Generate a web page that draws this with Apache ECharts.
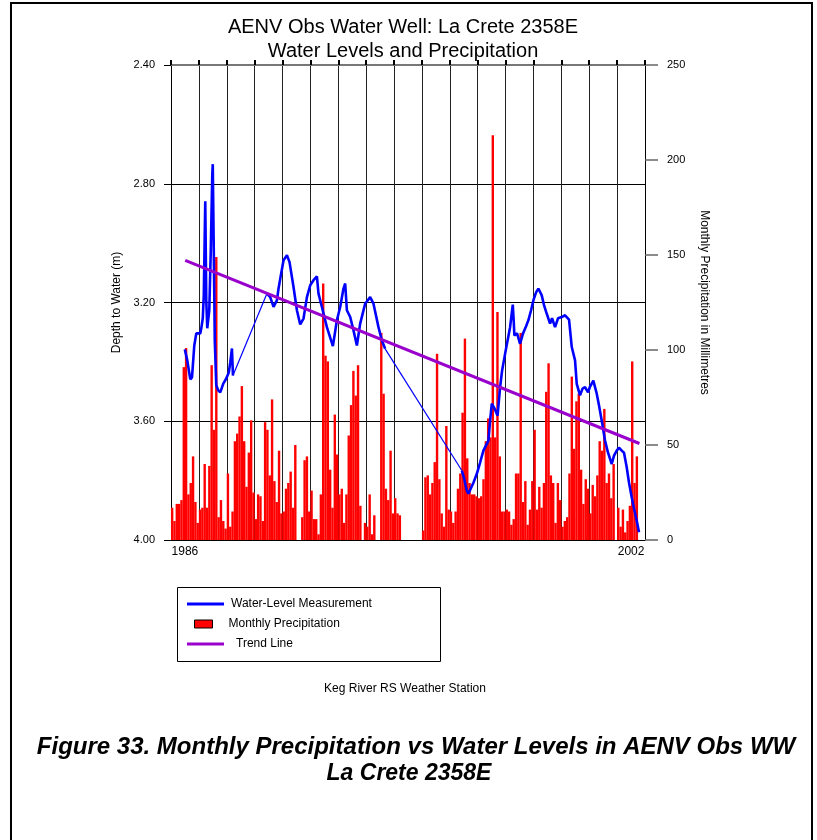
<!DOCTYPE html>
<html><head><meta charset="utf-8">
<script src="https://cdn.jsdelivr.net/npm/echarts@6/dist/echarts.min.js"></script>
<style>html,body{margin:0;padding:0;background:#fff}#c{width:817px;height:840px}</style>
</head><body><div id="c"></div>
<script>
// ---- Monthly precipitation (mm), Jan..Dec, null = no data ----
const p1986 = [17, 10, 19, 19, 21, 91, 101, 24, 30, 44, 20, 9];
const p1987 = [16, 17, 40, 17, 39, 92, 58, 149, 12, 21, 10, 6];
const p1988 = [35, 7, 15, 52, 56, 65, 81, 52, 28, 46, 63, 25];
const p1989 = [11, 24, 23, 10, 62, 58, 34, 74, 31, 20, 47, 14];
const p1990 = [15, 27, 30, 36, 17, 50, null, null, 12, 42, 44, 15];
const p1991 = [26, 11, 11, 3, 24, 135, 97, 94, 37, 17, 66, 45];
const p1992 = [24, 27, 9, 24, 55, 71, 89, 76, 92, 18, 0, 9];
const p1993 = [7, 24, 3, 13, 0, 0, 109, 77, 27, 21, 47, 14];
const p1994 = [22, 14, 13, null, null, null, null, null, null, null, null, null];
const p1995 = [5, 33, 34, 24, 30, 41, 98, 32, 14, 7, 60, 16];
const p1996 = [15, 9, 15, 27, 35, 67, 106, 43, 30, 24, 24, 23];
const p1997 = [22, 23, 32, 52, 64, 54, 213, 54, 120, 44, 15, 15];
const p1998 = [16, 15, 8, 11, 35, 35, 109, 20, 31, 8, 16, 31];
const p1999 = [58, 16, 28, 17, 30, 78, 93, 34, 30, 9, 30, 21];
const p2000 = [7, 10, 12, 35, 86, 48, 73, 77, 37, 19, 32, 27];
const p2001 = [14, 29, 23, 34, 52, 47, 69, 30, 35, 22, 40, 0];
const p2002 = [17, 7, 16, 4, 10, 18, 94, 30, 44, null, null, null];
const precipYears = [1986,1987,1988,1989,1990,1991,1992,1993,1994,1995,1996,1997,1998,1999,2000,2001,2002];
const precipRows = [p1986,p1987,p1988,p1989,p1990,p1991,p1992,p1993,p1994,p1995,p1996,p1997,p1998,p1999,p2000,p2001,p2002];

// ---- Water level (depth to water, m) : decimal year / depth ----
const wlTimeA = [1986.495,1986.584,1986.692,1986.753,1986.835,1986.907,1987.050,1987.086,1987.140,1987.176,1987.229,1987.265,1987.301,1987.373,1987.427,1987.480,1987.498,1987.534,1987.570,1987.624,1987.695,1987.767,1987.875,1987.982,1988.072,1988.125,1988.186,1988.222];
const wlDepthA = [3.358,3.395,3.459,3.452,3.345,3.304,3.304,3.287,3.253,3.176,2.859,3.193,3.287,3.226,3.024,2.771,2.734,3.024,3.328,3.479,3.496,3.503,3.473,3.456,3.436,3.402,3.355,3.446];
const wlTimeB = [1989.441,1989.559,1989.677,1989.799,1989.857,1989.918,1990.036,1990.158,1990.251,1990.394,1990.516,1990.634,1990.753,1990.875,1990.993,1991.111,1991.233,1991.290,1991.412,1991.591,1991.806,1991.950,1992.068,1992.186,1992.247,1992.308,1992.427,1992.545,1992.667,1992.785,1992.964,1993.143,1993.262,1993.441,1993.563,1993.681];
const wlDepthB = [3.170,3.182,3.215,3.193,3.153,3.120,3.058,3.041,3.064,3.148,3.226,3.274,3.254,3.182,3.142,3.125,3.112,3.170,3.215,3.283,3.347,3.260,3.215,3.153,3.136,3.226,3.249,3.294,3.345,3.271,3.204,3.182,3.204,3.283,3.328,3.356];
const wlTimeC = [1996.430,1996.513,1996.609,1996.667,1996.728,1996.846,1996.968,1997.086,1997.204,1997.384,1997.444,1997.505,1997.588,1997.713,1997.803,1997.875,1997.982,1998.072,1998.161,1998.258,1998.294,1998.315,1998.412,1998.520,1998.627,1998.735,1998.817,1998.914,1998.996,1999.093,1999.176,1999.297,1999.380,1999.477,1999.595,1999.667,1999.774,1999.882,2000.014,2000.133,2000.276,2000.373,2000.491,2000.552,2000.670,2000.760,2000.849,2000.957,2001.029,2001.147,2001.269,2001.351,2001.448,2001.566,2001.674,2001.806,2001.889,2001.986,2002.068,2002.165,2002.247,2002.344,2002.427,2002.523,2002.606,2002.703,2002.785];
const wlDepthC = [3.766,3.793,3.834,3.844,3.839,3.807,3.777,3.739,3.699,3.665,3.598,3.541,3.554,3.581,3.486,3.429,3.373,3.328,3.283,3.207,3.267,3.311,3.304,3.339,3.304,3.280,3.260,3.226,3.193,3.166,3.153,3.176,3.210,3.238,3.271,3.253,3.283,3.253,3.249,3.243,3.258,3.350,3.395,3.474,3.513,3.490,3.485,3.503,3.483,3.463,3.507,3.547,3.598,3.665,3.706,3.744,3.716,3.699,3.689,3.699,3.706,3.755,3.807,3.856,3.894,3.935,3.974];

// ---- Trend line ----
const trendTime = [1986.51, 2002.80];
const trendDepth = [3.058, 3.675];

// ---- Axis ticks / labels ----
const depthTicks = [2.40, 2.80, 3.20, 3.60, 4.00];
const precipTicks = [0, 50, 100, 150, 200, 250];
const yearStart = 1986, yearEnd = 2003;
const yearLabels = [{at: 1986.5, text: '1986'}, {at: 2002.5, text: '2002'}];

// ---- build ----
const zip = (t, d) => t.map((v, i) => [v, d[i]]);
const barData = [];
precipRows.forEach((row, i) => row.forEach((v, m) => {
  if (v !== null) barData.push([precipYears[i] + (m + 0.5) / 12, v]);
}));
const segA = zip(wlTimeA, wlDepthA), segB = zip(wlTimeB, wlDepthB), segC = zip(wlTimeC, wlDepthC);
const gap1 = [segA[segA.length - 1], segB[0]];
const gap2 = [segB[segB.length - 1], segC[0]];

const FONT = 'Liberation Sans, Arial, sans-serif';
const BLUE = '#0000FF', RED = '#FF0000', PURPLE = '#9900CC';
const WL = 'Water-Level Measurement', PR = 'Monthly Precipitation', TR = 'Trend Line';

function wlSeries(data, w) {
  return {name: WL, type: 'line', xAxisIndex: 0, yAxisIndex: 0, data: data, symbol: 'none',
    color: BLUE, lineStyle: {color: BLUE, width: w}, itemStyle: {color: BLUE}, z: 3, silent: true};
}

const chart = echarts.init(document.getElementById('c'), null, {renderer: 'canvas'});
chart.setOption({
  animation: false,
  textStyle: {fontFamily: FONT, color: '#000'},
  title: {
    text: 'AENV Obs Water Well: La Crete 2358E\nWater Levels and Precipitation',
    left: 398, top: 10, textAlign: 'center',
    textStyle: {fontSize: 20, fontWeight: 'normal', lineHeight: 24, fontFamily: FONT, color: '#000'}
  },
  grid: {left: 171, right: 172, top: 65, bottom: 300, containLabel: false},
  xAxis: [
    {type: 'value', min: yearStart, max: yearEnd, interval: 1, position: 'bottom',
      axisLine: {show: true, lineStyle: {color: '#000', width: 1}},
      axisTick: {show: false}, axisLabel: {show: false},
      splitLine: {show: true, lineStyle: {color: '#222', width: 1}}},
    {type: 'value', min: yearStart, max: yearEnd, interval: 0.5, position: 'bottom',
      axisLine: {show: false}, axisTick: {show: false}, splitLine: {show: false},
      axisLabel: {show: true, margin: 6, fontSize: 12, color: '#000', fontFamily: FONT,
        formatter: function (v) {
          const f = yearLabels.find(l => Math.abs(l.at - v) < 0.01);
          return f ? f.text : '';
        }}},
    {type: 'value', min: yearStart, max: yearEnd, interval: 1, position: 'top',
      axisLine: {show: true, lineStyle: {color: '#777', width: 2}},
      axisTick: {show: true, length: 5, lineStyle: {color: '#000', width: 2}},
      axisLabel: {show: false}, splitLine: {show: false}}
  ],
  yAxis: [
    {type: 'value', inverse: true, min: depthTicks[0], max: depthTicks[depthTicks.length - 1],
      interval: depthTicks[1] - depthTicks[0], position: 'left',
      name: 'Depth to Water (m)', nameLocation: 'middle', nameGap: 47, nameRotate: 90,
      nameTextStyle: {fontSize: 12, color: '#000', fontFamily: FONT},
      axisLine: {show: true, lineStyle: {color: '#000'}},
      axisTick: {show: true, length: 7, lineStyle: {color: '#000'}},
      axisLabel: {fontSize: 11, margin: 16, color: '#000', fontFamily: FONT, formatter: v => v.toFixed(2)},
      splitLine: {show: true, lineStyle: {color: '#000', width: 1}}},
    {type: 'value', min: precipTicks[0], max: precipTicks[precipTicks.length - 1],
      interval: precipTicks[1] - precipTicks[0], position: 'right',
      name: 'Monthly Precipitation in Millimetres', nameLocation: 'middle', nameGap: 53, nameRotate: -90,
      nameTextStyle: {fontSize: 12, color: '#000', fontFamily: FONT},
      axisLine: {show: true, lineStyle: {color: '#000'}},
      axisTick: {show: true, length: 13, lineStyle: {color: '#666', width: 1.5}},
      axisLabel: {fontSize: 11, margin: 22, color: '#000', fontFamily: FONT},
      splitLine: {show: false}}
  ],
  legend: [
    {data: [WL], left: 187, top: 598, padding: 0, itemWidth: 37, itemHeight: 3, icon: 'rect',
      textStyle: {fontSize: 12, color: '#000', fontFamily: FONT, padding: [0, 0, 0, 2]}, selectedMode: false},
    {data: [PR], left: 194, top: 618, padding: 0, itemWidth: 18, itemHeight: 8, icon: 'rect',
      itemStyle: {borderColor: '#000', borderWidth: 1},
      textStyle: {fontSize: 12, color: '#000', fontFamily: FONT, padding: [0, 0, 0, 11]}, selectedMode: false},
    {data: [TR], left: 187, top: 638, padding: 0, itemWidth: 37, itemHeight: 3, icon: 'rect',
      textStyle: {fontSize: 12, color: '#000', fontFamily: FONT, padding: [0, 0, 0, 7]}, selectedMode: false}
  ],
  series: [
    {name: PR, type: 'bar', xAxisIndex: 0, yAxisIndex: 1, data: barData, barWidth: 2.4,
      color: RED, itemStyle: {color: RED}, z: 2, silent: true},
    wlSeries(gap1, 1.2), wlSeries(gap2, 1.2),
    wlSeries(segA, 2.6), wlSeries(segB, 2.6), wlSeries(segC, 2.6),
    {name: TR, type: 'line', xAxisIndex: 0, yAxisIndex: 0, data: zip(trendTime, trendDepth), symbol: 'none',
      color: PURPLE, lineStyle: {color: PURPLE, width: 3}, itemStyle: {color: PURPLE}, z: 4, silent: true}
  ],
  graphic: [
    {type: 'rect', shape: {x: 11, y: 3, width: 801, height: 860}, style: {fill: 'none', stroke: '#000', lineWidth: 2}, silent: true},
    {type: 'rect', shape: {x: 177.5, y: 587.5, width: 263, height: 74}, style: {fill: 'none', stroke: '#000', lineWidth: 1}, silent: true},
    {type: 'text', style: {text: 'Keg River RS Weather Station', x: 405, y: 689, align: 'center', verticalAlign: 'middle',
      fontSize: 12, fontFamily: FONT, fill: '#000'}},
    {type: 'text', style: {text: 'Figure 33. Monthly Precipitation vs Water Levels in AENV Obs WW', x: 416, y: 747,
      align: 'center', verticalAlign: 'middle', fontSize: 24, fontWeight: 'bold', fontStyle: 'italic', fontFamily: FONT, fill: '#000'}},
    {type: 'text', style: {text: 'La Crete 2358E', x: 409, y: 774,
      align: 'center', verticalAlign: 'middle', fontSize: 23, fontWeight: 'bold', fontStyle: 'italic', fontFamily: FONT, fill: '#000'}}
  ]
});
</script>
</body></html>
